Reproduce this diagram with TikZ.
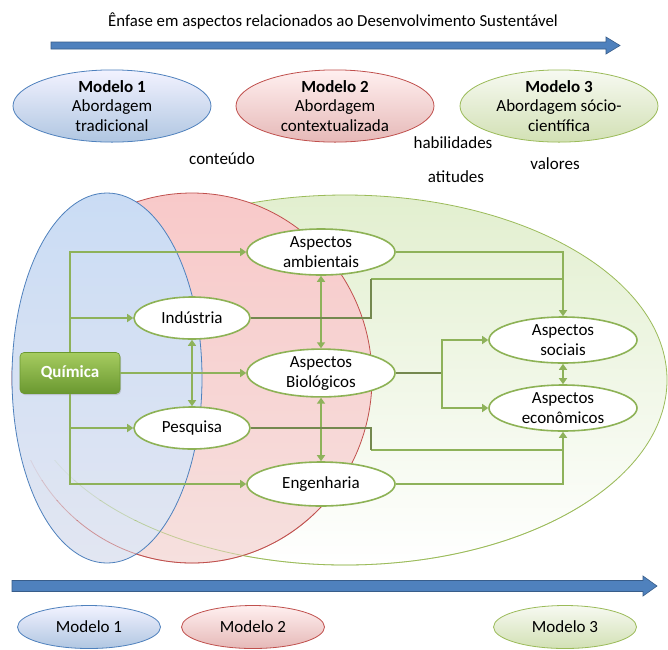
\documentclass[tikz,border=0pt]{standalone}
\usepackage{fontspec}
\setmainfont{Carlito}
\usetikzlibrary{shapes.geometric,arrows.meta,shadows}
\definecolor{gline}{HTML}{8EB25A}
\definecolor{gdark}{HTML}{74884F}
\definecolor{gborder}{HTML}{8DB255}
\definecolor{blueA}{HTML}{4F81BD}
\definecolor{blueB}{HTML}{385D8A}
\definecolor{redO}{HTML}{C0504D}
\definecolor{greenO}{HTML}{9BBB59}
\definecolor{quiTop}{HTML}{A6CC60}
\definecolor{quiBot}{HTML}{6A9830}
\definecolor{blueT}{HTML}{CADCF4}
\definecolor{blueM}{HTML}{BFD4F1}
\definecolor{blueBo}{HTML}{E2E6F2}
\definecolor{redT}{HTML}{F8C9C9}
\definecolor{redM}{HTML}{F5BBBB}
\definecolor{redBo}{HTML}{F6E0DE}
\definecolor{greenT}{HTML}{E2EFCF}
\definecolor{greenM}{HTML}{D8E7BD}
\begin{document}
\begin{tikzpicture}[x=1pt,y=-1pt,
  txt/.style={font=\fontsize{17}{20}\selectfont, inner sep=0pt},
  wnode/.style={ellipse, draw=gborder, line width=1.6pt, fill=white, inner sep=0pt,
    minimum width=148pt, minimum height=46pt, align=center,
    font=\fontsize{17}{20}\selectfont},
  snode/.style={wnode, minimum width=116pt, minimum height=42pt},
  model/.style={ellipse, line width=0.8pt, inner sep=0pt, minimum width=198pt,
    minimum height=68pt, align=center, font=\fontsize{17}{19.5}\selectfont},
  bmodel/.style={ellipse, line width=0.8pt, inner sep=0pt, minimum width=143pt,
    minimum height=43pt, font=\fontsize{17}{20}\selectfont},
  blueMod/.style={draw=blueA, top color=blue!5!white, bottom color=blueA!45!white},
  redMod/.style={draw=redO, top color=red!6!white, bottom color=redO!40!white},
  greenMod/.style={draw=greenO, top color=greenO!8!white, bottom color=greenO!45!white},
  conn/.style={draw=gline, line width=2.6pt},
  conndark/.style={draw=gdark, line width=2.6pt},
  tip/.style={-{Triangle[width=8pt,length=6pt]}},
  dtip/.style={{Triangle[width=8pt,length=6pt]}-{Triangle[width=8pt,length=6pt]}},
  bigarrow/.style={fill=blueA, draw=blueB, line width=0.6pt},
  ghost/.style={line width=0.8pt, opacity=#1}
]
\useasboundingbox (0,0) rectangle (668,649);
\fill[white] (0,0) rectangle (668,649);

% title and top arrow
\node[txt, font=\fontsize{16.8}{20}\selectfont] (title) at (333,21) {Ênfase em aspectos relacionados ao Desenvolvimento Sustentável};
\path[bigarrow] (51,42) -- (606,42) -- (606,37) -- (620,45.5) -- (606,54) -- (606,49) -- (51,49) -- cycle;

% model ellipses
\node[model, blueMod] (m1) at (112,106) {\textbf{Modelo 1}\\Abordagem\\tradicional};
\node[model, redMod] (m2) at (335,106) {\textbf{Modelo 2}\\Abordagem\\contextualizada};
\node[model, greenMod] (m3) at (559,106) {\textbf{Modelo 3}\\Abordagem sócio-\\científica};

\node[txt] (l1) at (222,159) {conteúdo};
\node[txt] (l2) at (453,143) {habilidades};
\node[txt] (l3) at (555,164) {valores};
\node[txt] (l4) at (456,177) {atitudes};

% big ellipses
\shade[top color=greenT, middle color=greenM, bottom color=white]
  (345,380) ellipse [x radius=322pt, y radius=185pt];
\draw[greenO, line width=0.8pt] (345,380) ellipse [x radius=322pt, y radius=185pt];
\shade[top color=redT, middle color=redM, bottom color=redBo]
  (192,378) ellipse [x radius=180pt, y radius=185pt];
\draw[redO, line width=0.8pt] (192,378) ellipse [x radius=180pt, y radius=185pt];
\shade[top color=blueT, middle color=blueM, bottom color=blueBo]
  (107,378) ellipse [x radius=95pt, y radius=185pt];
\draw[blueA, line width=0.8pt] (107,378) ellipse [x radius=95pt, y radius=185pt];
% outlines showing through the lower, more transparent part
\foreach \ya/\yb/\op in {460/480/0.12, 480/500/0.25, 500/520/0.4, 520/600/0.55}{
  \begin{scope}
    \clip (0,\ya) rectangle (668,\yb);
    \draw[redO, ghost=\op] (192,378) ellipse [x radius=180pt, y radius=185pt];
    \draw[greenO, ghost=\op] (345,380) ellipse [x radius=322pt, y radius=185pt];
  \end{scope}
}

% nodes
\node[wnode] (amb) at (321,252) {Aspectos\\ambientais};
\node[snode] (ind) at (192,318) {Indústria};
\node[wnode] (bio) at (321,373) {Aspectos\\Biológicos};
\node[snode] (pes) at (192,428) {Pesquisa};
\node[wnode, minimum height=44pt] (eng) at (321,484) {Engenharia};
\node[wnode] (soc) at (563,340) {Aspectos\\sociais};
\node[wnode] (eco) at (563,408) {Aspectos\\econômicos};
\node[rectangle, rounded corners=4pt, minimum width=100pt, minimum height=41pt,
  top color=quiTop, bottom color=quiBot, draw=quiBot,
  line width=0.6pt, text=white, font=\fontsize{17}{20}\selectfont\bfseries,
  drop shadow={opacity=0.3, shadow xshift=1pt, shadow yshift=-1.5pt}] (qui) at (70,373) {Química};

% connectors
\coordinate (j1) at (371,279);
\coordinate (j2) at (442,373);
\coordinate (j3) at (371,450);
\draw[conn,tip] (qui.north) |- (amb.west);
\draw[conn,tip] (qui.north) |- (ind.west);
\draw[conn,tip] (qui.east) -- (bio.west);
\draw[conn,tip] (qui.south) |- (pes.west);
\draw[conn,tip] (qui.south) |- (eng.west);
\draw[conn,dtip] (ind.south) -- (pes.north);
\draw[conn,dtip] (amb.south) -- (bio.north);
\draw[conn,dtip] (bio.south) -- (eng.north);
\draw[conn,dtip] (soc.south) -- (eco.north);
\draw[conn,tip] (amb.east) -| (soc.north);
\draw[conn] (j1) -- (j1 -| soc.north);
\draw[conndark] (ind.east) -| (j1);
\draw[conndark] (bio.east) -- (j2);
\draw[conn,tip] (j2) |- (soc.west);
\draw[conn,tip] (j2) |- (eco.west);
\draw[conn,tip] (j3) -| (eco.south);
\draw[conndark] (pes.east) -| (j3);
\draw[conn] (eng.east) -| (j3 -| eco.south);

% bottom arrow and models
\path[bigarrow] (12,580.5) -- (643,580.5) -- (643,576) -- (657,586) -- (643,596) -- (643,591.5) -- (12,591.5) -- cycle;
\node[bmodel, blueMod] (b1) at (89,627) {Modelo 1};
\node[bmodel, redMod] (b2) at (253,627) {Modelo 2};
\node[bmodel, greenMod] (b3) at (565,627) {Modelo 3};
\end{tikzpicture}
\end{document}
